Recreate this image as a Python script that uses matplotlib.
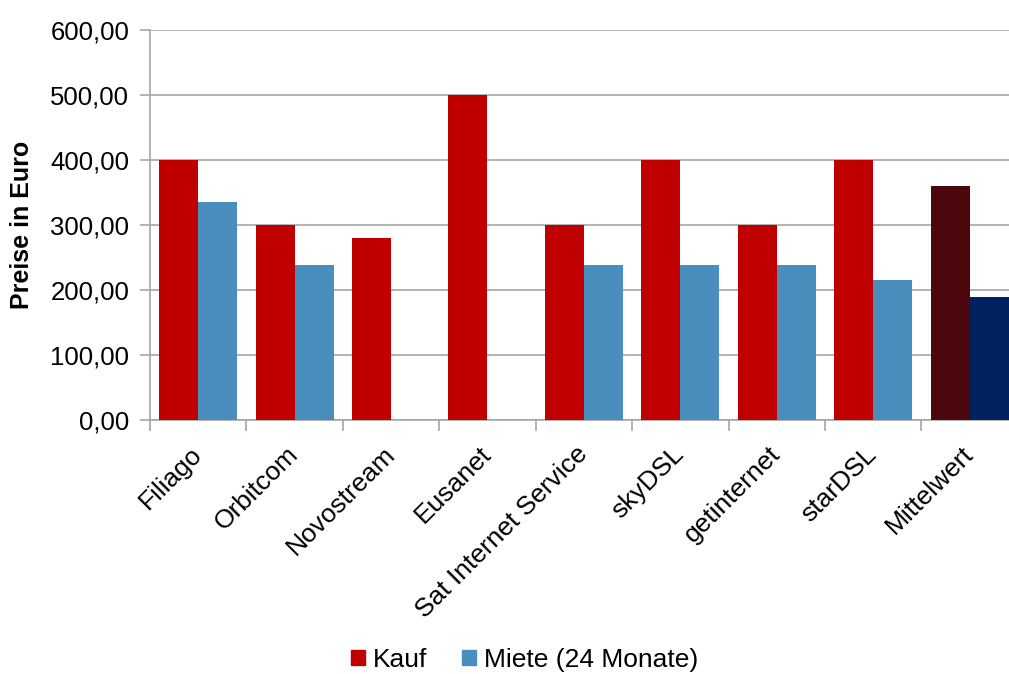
import numpy as np
import matplotlib.pyplot as plt
from matplotlib.patches import Patch

anbieter = ["Filiago", "Orbitcom", "Novostream", "Eusanet", "Sat Internet Service",
            "skyDSL", "getinternet", "starDSL", "Mittelwert"]
kauf = [400, 300, 280, 500, 300, 400, 300, 400, 360]
miete = [335, 238, np.nan, np.nan, 238, 238, 238, 215, 189]

kauf_farbe = "#C00000"
miete_farbe = "#4A8EBE"
mittel_kauf_farbe = "#4B070C"
mittel_miete_farbe = "#002060"

plt.rcParams["font.family"] = ["Liberation Sans", "DejaVu Sans"]

fig = plt.figure(figsize=(10.09, 6.74), dpi=100)
# the plot area runs a little past the right edge of the picture
ax = fig.add_axes([0.1487, 0.3769, 0.86, 0.5786])

x = np.arange(len(anbieter))
w = 0.405
kauf_cols = [kauf_farbe] * (len(anbieter) - 1) + [mittel_kauf_farbe]
miete_cols = [miete_farbe] * (len(anbieter) - 1) + [mittel_miete_farbe]
ax.bar(x - w / 2, kauf, w, color=kauf_cols, zorder=3)
ax.bar(x + w / 2, miete, w, color=miete_cols, zorder=3)

ax.set_xlim(-0.5, len(anbieter) - 0.5)
ax.set_ylim(0, 600)
ax.set_yticks(range(0, 601, 100))
ax.set_yticklabels([f"{v},00" for v in range(0, 601, 100)], fontsize=18.5)
ax.yaxis.grid(True, color="#A6A6A6", linewidth=1.2, zorder=0)

for s in ["top", "right"]:
    ax.spines[s].set_visible(False)
for s in ["left", "bottom"]:
    ax.spines[s].set_color("#A6A6A6")
    ax.spines[s].set_linewidth(1.2)

ax.tick_params(axis="y", direction="out", length=7, color="#A6A6A6", width=1.2, pad=8)

# tick marks between the categories, labels at the centers
ax.set_xticks(np.arange(-0.5, len(anbieter) - 0.4, 1.0), minor=False)
ax.set_xticklabels([])
ax.tick_params(axis="x", which="major", direction="out", length=8, color="#A6A6A6", width=1.2)
ax.set_xticks(x, minor=True)
ax.set_xticklabels(anbieter, minor=True, rotation=45, ha="right", va="center",
                   rotation_mode="anchor", fontsize=19)
ax.tick_params(axis="x", which="minor", length=0, pad=22)

ax.set_ylabel("Preise in Euro", fontsize=18, fontweight="bold", labelpad=12)

handles = [Patch(color=kauf_farbe, label="Kauf"),
           Patch(color=miete_farbe, label="Miete (24 Monate)")]
fig.legend(handles=handles, loc="lower center", bbox_to_anchor=(0.52, -0.032), ncol=2,
           frameon=False, fontsize=19, handlelength=0.55, handleheight=0.55,
           handletextpad=0.3, columnspacing=1.3)

fig.savefig("out.png", dpi=100)
